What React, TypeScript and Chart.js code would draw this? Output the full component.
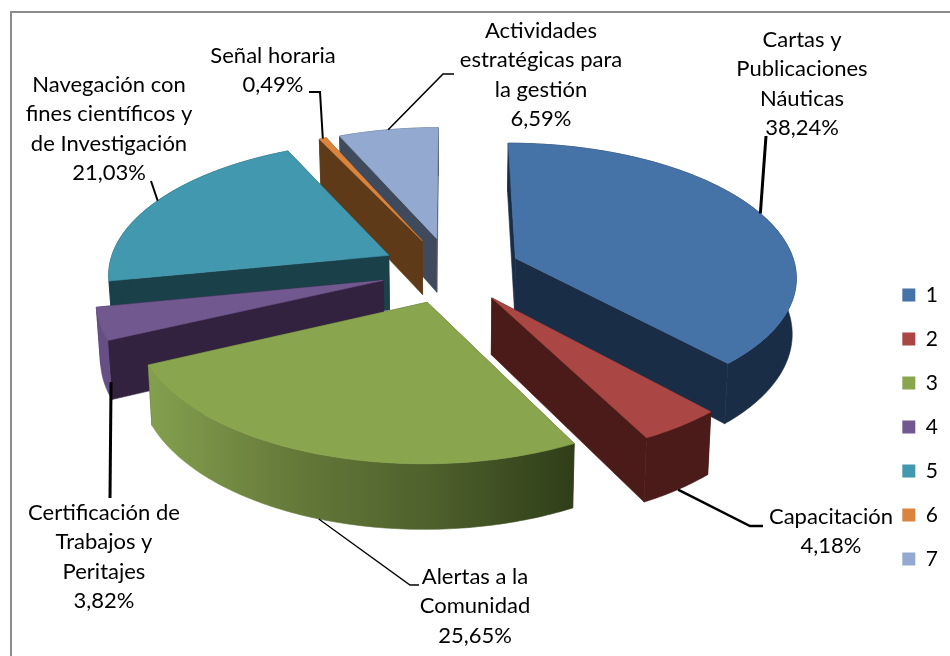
import React, { useEffect, useRef } from "react";
import { Chart, registerables } from "chart.js";

Chart.register(...registerables);

const legendLabels = ["1", "2", "3", "4", "5", "6", "7"];
const percentages = [38.24, 4.18, 25.65, 3.82, 21.03, 0.49, 6.59];
const sliceNames = [
  ["Cartas y", "Publicaciones", "Náuticas"],
  ["Capacitación"],
  ["Alertas a la", "Comunidad"],
  ["Certificación de", "Trabajos y", "Peritajes"],
  ["Navegación con", "fines científicos y", "de Investigación"],
  ["Señal horaria"],
  ["Actividades", "estratégicas para", "la gestión"],
];
const topColors = ["#4572A7", "#AA4643", "#89A54E", "#71588F", "#4198AF", "#DB843D", "#93A9CF"];
const wallColors = ["#1A2D47", "#4A1B18", "#3A4A20", "#33223F", "#1A4049", "#5F3A18", "#3F4A5C"];
const rimStops = [
  ["#1A2D47"],
  ["#4A1B18"],
  ["#84A04E", "#667A3A", "#4E602C", "#2F3E18"],
  ["#664F85"],
  ["#1A4049"],
  ["#5F3A18"],
  ["#3F4A5C"],
];

const FONT = "Lato, Carlito, sans-serif";
const FONT_SIZE = 22;
const LEGEND_FONT_SIZE = 21;
const LINE_H = 29.4;

// pie plane seen in perspective (all relative to the pie's own radius)
const EXPLODE = 0.25;
const X_SCALE = 1.04;
const Z_SCALE = 0.49;
const PERSPECTIVE = 0.126;
const THICKNESS = 0.205;
const BOTTOM_NARROW = 0.988;

// per slice: label centre, first line y, side of the pie for the leader, start nudge, elbows, line width
const labelLayout = [
  { x: 802, y: 40, base: false, dx: 0, elbows: [[766, 136]], w: 3 },
  { x: 831, y: 517, base: true, dx: 0, elbows: [[750, 526], [763, 526]], w: 2.5 },
  { x: 475, y: 577, base: true, dx: 0, elbows: [[410, 585], [419, 585]], w: 1.3 },
  { x: 104, y: 513, base: true, dx: 7, elbows: [[110, 498]], w: 3 },
  { x: 109, y: 85, base: false, dx: 0, elbows: [[151, 181]], w: 2 },
  { x: 273, y: 56, base: false, dx: 0, elbows: [[320, 92], [309, 92]], w: 2 },
  { x: 541, y: 31, base: false, dx: 0, elbows: [[443, 74], [454, 74]], w: 1.6 },
];

function project(arc: any, angle: number, onRim: boolean, down: boolean) {
  const mid = (arc.startAngle + arc.endAngle) / 2;
  const R = arc.outerRadius;
  const px = Math.cos(mid) * EXPLODE + (onRim ? Math.cos(angle) : 0);
  const pz = -Math.sin(mid) * EXPLODE - (onRim ? Math.sin(angle) : 0);
  const s = 1 / (1 + PERSPECTIVE * pz);
  return {
    x: arc.x + R * X_SCALE * px * s * (down ? BOTTOM_NARROW : 1),
    y: arc.y - R * Z_SCALE * pz * s + (down ? R * THICKNESS * s : 0),
  };
}

function fillPoly(ctx: CanvasRenderingContext2D, pts: { x: number; y: number }[], fill: any) {
  ctx.beginPath();
  pts.forEach((p, i) => (i ? ctx.lineTo(p.x, p.y) : ctx.moveTo(p.x, p.y)));
  ctx.closePath();
  ctx.fillStyle = fill;
  ctx.strokeStyle = fill;
  ctx.lineWidth = 0.6;
  ctx.fill();
  ctx.stroke();
}

const pie3d = {
  id: "pie3d",
  afterLayout(chart: any) {
    // legend sits lower than the vertical centre of the pie
    const legend = chart.legend;
    const shift = 427 - (legend.top + legend.bottom) / 2;
    legend.top += shift;
    legend.bottom += shift;
  },
  beforeDatasetsDraw(chart: any) {
    const ctx: CanvasRenderingContext2D = chart.ctx;
    const arcs: any[] = chart.getDatasetMeta(0).data;
    const order = arcs
      .map((_, i) => i)
      .sort((a, b) => {
        const m = (k: number) => (arcs[k].startAngle + arcs[k].endAngle) / 2;
        return Math.sin(m(a)) - Math.sin(m(b));
      });

    for (const i of order) {
      const arc = arcs[i];
      const steps = Math.max(2, Math.ceil((arc.endAngle - arc.startAngle) / 0.015));
      const angles = Array.from({ length: steps + 1 }, (_, k) => arc.startAngle + ((arc.endAngle - arc.startAngle) * k) / steps);
      const topRim = angles.map((a) => project(arc, a, true, false));
      const botRim = angles.map((a) => project(arc, a, true, true));
      const apexTop = project(arc, 0, false, false);
      const apexBot = project(arc, 0, false, true);

      // cut walls
      fillPoly(ctx, [apexTop, topRim[0], botRim[0], apexBot], wallColors[i]);
      fillPoly(ctx, [apexTop, topRim[steps], botRim[steps], apexBot], wallColors[i]);

      // outer rim
      const stops = rimStops[i];
      let rimFill: any = stops[0];
      if (stops.length > 1) {
        const xs = topRim.map((p) => p.x);
        const g = ctx.createLinearGradient(Math.min(...xs), 0, Math.max(...xs), 0);
        stops.forEach((c, k) => g.addColorStop(k / (stops.length - 1), c));
        rimFill = g;
      }
      fillPoly(ctx, [...topRim, ...botRim.slice().reverse()], rimFill);

      // top face
      fillPoly(ctx, [apexTop, ...topRim], topColors[i]);
    }

    // leader lines
    ctx.strokeStyle = "#000";
    ctx.lineJoin = "miter";
    arcs.forEach((arc, i) => {
      const l = labelLayout[i];
      const start = project(arc, (arc.startAngle + arc.endAngle) / 2, true, l.base);
      ctx.beginPath();
      ctx.moveTo(start.x + l.dx, start.y);
      l.elbows.forEach(([x, y]) => ctx.lineTo(x, y));
      ctx.lineWidth = l.w;
      ctx.stroke();
    });

    // data labels
    ctx.fillStyle = "#000";
    ctx.font = `${FONT_SIZE}px ${FONT}`;
    ctx.textAlign = "center";
    ctx.textBaseline = "middle";
    arcs.forEach((_, i) => {
      const l = labelLayout[i];
      const lines = [...sliceNames[i], percentages[i].toFixed(2).replace(".", ",") + "%"];
      lines.forEach((t, k) => ctx.fillText(t, l.x, l.y + k * LINE_H));
    });
    return false;
  },
  afterDraw(chart: any) {
    const ctx: CanvasRenderingContext2D = chart.ctx;
    ctx.strokeStyle = "#8C8C8C";
    ctx.lineWidth = 2;
    ctx.beginPath();
    ctx.moveTo(11, 656);
    ctx.lineTo(11, 12);
    ctx.lineTo(950, 12);
    ctx.stroke();
  },
};

export default function App() {
  const ref = useRef<HTMLCanvasElement>(null);
  useEffect(() => {
    document.body.style.margin = "0";
    document.body.style.background = "#fff";
    const chart = new Chart(ref.current!, {
      type: "pie",
      data: {
        labels: legendLabels,
        datasets: [{ data: percentages, backgroundColor: topColors, borderWidth: 0 }],
      },
      options: {
        responsive: false,
        animation: false,
        rotation: 0,
        layout: { padding: { left: 22, right: 2, top: 0, bottom: 116 } },
        plugins: {
          legend: {
            position: "right",
            labels: {
              boxWidth: 13,
              boxHeight: 13,
              padding: 23,
              color: "#000",
              font: { family: FONT, size: LEGEND_FONT_SIZE },
            },
          },
          tooltip: { enabled: false },
        },
      },
      plugins: [pie3d],
    } as any);
    return () => chart.destroy();
  }, []);
  return <canvas ref={ref} width={950} height={656} style={{ display: "block" }} />;
}
